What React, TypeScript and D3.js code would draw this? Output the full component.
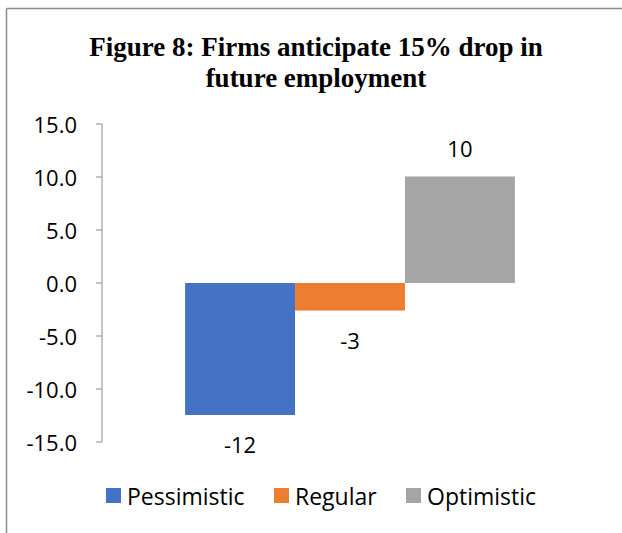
import React from "react";
import * as d3 from "d3";

const title = ["Figure 8: Firms anticipate 15% drop in", "future employment"];
const categories = ["Employment"];
const seriesNames = ["Pessimistic", "Regular", "Optimistic"];
const seriesValues = [-12.45, -2.6, 10.05];
const seriesColors = ["#4472C4", "#ED7D31", "#A5A5A5"];
const yTicks = [-15, -10, -5, 0, 5, 10, 15];

const W = 622;
const H = 533;
const SANS = "'Open Sans', 'Noto Sans', sans-serif";
const FS = 22;

const locale = d3.formatLocale({
  decimal: ".",
  thousands: ",",
  grouping: [3],
  currency: ["", ""],
  minus: "-",
});

export default function App() {
  const y = d3.scaleLinear().domain([-15, 15]).range([442, 124]);
  const x0 = d3.scaleBand().domain(categories).range([102, 598]).paddingOuter(0.252);
  const x1 = d3
    .scaleBand()
    .domain(seriesNames)
    .range([0, x0.bandwidth()])
    .padding(0);
  const fmtTick = locale.format(".1f");
  const fmtLabel = locale.format(".0f");
  const legendX = [106, 274, 406];

  return (
    <svg
      width={W}
      height={H}
      style={{ position: "absolute", left: 0, top: 0, background: "#fff" }}
    >
      <rect x={0} y={0} width={W} height={H} fill="#fff" />
      {/* outer border */}
      <line x1={6.5} y1={8.5} x2={W} y2={8.5} stroke="#8c8c8c" strokeWidth={1.5} />
      <line x1={6.5} y1={8.5} x2={6.5} y2={H} stroke="#8c8c8c" strokeWidth={1.5} />

      {/* title */}
      <text
        x={316}
        fontFamily="'Liberation Serif', 'Times New Roman', serif"
        fontWeight="bold"
        fontSize={27}
        textAnchor="middle"
        fill="#000"
      >
        <tspan x={316} y={56}>{title[0]}</tspan>
        <tspan x={316} y={87}>{title[1]}</tspan>
      </text>

      {/* bars */}
      {categories.map((c) => (
        <g key={c} transform={`translate(${x0(c)},0)`}>
          {seriesNames.map((s, i) => {
            const v = seriesValues[i];
            const bx = x1(s) as number;
            const top = y(Math.max(0, v));
            const bot = y(Math.min(0, v));
            const labelY = v >= 0 ? top - 28 : bot + 29;
            return (
              <g key={s}>
                <rect x={bx} y={top} width={x1.bandwidth()} height={bot - top} fill={seriesColors[i]} />
                <text
                  x={bx + x1.bandwidth() / 2}
                  y={labelY}
                  textAnchor="middle"
                  dominantBaseline="central"
                  fontFamily={SANS}
                  fontSize={FS}
                  fill="#000"
                >
                  {fmtLabel(v)}
                </text>
              </g>
            );
          })}
        </g>
      ))}

      {/* y axis */}
      <line x1={102} y1={y(15)} x2={102} y2={y(-15)} stroke="#a6a6a6" strokeWidth={1.3} />
      {yTicks.map((t) => (
        <g key={t}>
          <line x1={96} y1={y(t)} x2={102} y2={y(t)} stroke="#a6a6a6" strokeWidth={1.3} />
          <text
            x={77}
            y={y(t)}
            textAnchor="end"
            dominantBaseline="central"
            fontFamily={SANS}
            fontSize={FS}
            fill="#000"
          >
            {fmtTick(t)}
          </text>
        </g>
      ))}

      {/* legend */}
      {seriesNames.map((s, i) => (
        <g key={s} transform={`translate(${legendX[i]},488)`}>
          <rect x={0} y={0} width={15} height={15} fill={seriesColors[i]} />
          <text
            x={21}
            y={8}
            dominantBaseline="central"
            fontFamily={SANS}
            fontSize={23}
            fill="#000"
          >
            {s}
          </text>
        </g>
      ))}
    </svg>
  );
}
